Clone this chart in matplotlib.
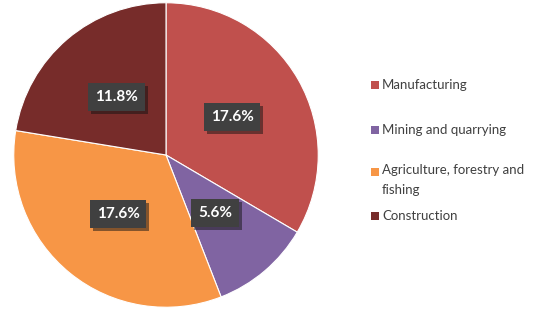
import numpy as np
import matplotlib
matplotlib.use('Agg')
import matplotlib.pyplot as plt
import matplotlib.patheffects as pe
from matplotlib.patches import Rectangle

# Data
categories = ['Manufacturing', 'Mining and quarrying', 'Agriculture, forestry and fishing', 'Construction']
legend_labels = ['Manufacturing', 'Mining and quarrying', 'Agriculture, forestry and\nfishing', 'Construction']
values = [17.6, 5.6, 17.6, 11.8]
colors = ['#C0504D', '#8064A2', '#F79646', '#772C2A']

W, H = 544, 324
fig = plt.figure(figsize=(W / 100, H / 100), dpi=100)
plt.rcParams['font.family'] = ['Lato', 'DejaVu Sans']

cx, cy, r = 166, 155, 153
ax = fig.add_axes([(cx - r) / W, (H - cy - r) / H, 2 * r / W, 2 * r / H])
wedges, _ = ax.pie(values, colors=colors, startangle=90, counterclock=False,
                   wedgeprops=dict(edgecolor='white', linewidth=0.8))
ax.set_xlim(-1.005, 1.005)
ax.set_ylim(-1.005, 1.005)
ax.set_aspect('equal')

# Value labels in dark boxes
for w, v in zip(wedges, values):
    ang = np.deg2rad((w.theta1 + w.theta2) / 2)
    x, y = 0.5 * np.cos(ang), 0.5 * np.sin(ang)
    t = ax.text(x, y, f"{v:.1f}%", ha='center', va='center', color='white',
                fontsize=11, fontweight='bold',
                bbox=dict(boxstyle='square,pad=0.45', fc='#404040', ec='none'))
    t.get_bbox_patch().set_path_effects([pe.SimplePatchShadow(offset=(2, -2), alpha=0.5), pe.Normal()])

# Legend drawn by hand
legend_y = [85, 130, 172, 216]
for lab, col, ly in zip(legend_labels, colors, legend_y):
    fig.patches.append(Rectangle((371 / W, 1 - (ly + 4) / H), 8 / W, 8 / H,
                                 transform=fig.transFigure, fc=col, ec='none'))
    if '\n' in lab:
        fig.text(382 / W, 1 - (ly - 8) / H, lab, ha='left', va='top',
                 fontsize=9.5, color='#404040', linespacing=1.75)
    else:
        fig.text(382 / W, 1 - ly / H, lab, ha='left', va='center',
                 fontsize=9.5, color='#404040')

fig.savefig('out.png', dpi=100)
